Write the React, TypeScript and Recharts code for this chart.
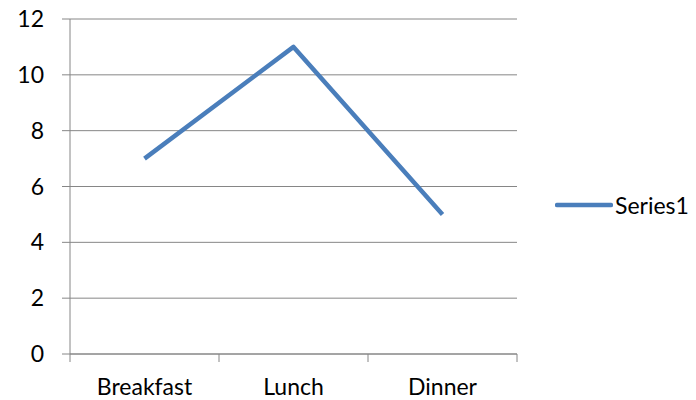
/** Line chart: one series across three meals, Excel-style. */

import { LineChart, Line, XAxis, YAxis, CartesianGrid, Legend } from 'recharts'

const CATEGORIES = ['Breakfast', 'Lunch', 'Dinner']
const SERIES_NAME = 'Series1'
const SERIES_VALUES = [7, 11, 5]
const Y_TICKS = [0, 2, 4, 6, 8, 10, 12]

const LINE_COLOR = '#4a7ebb'
const AXIS_COLOR = '#868686'
const FONT = 'Lato, "Liberation Sans", sans-serif'
const FONT_SIZE = 23

// categories sit in the middle of each band, tick marks on band edges
const rows = CATEGORIES.map((name, i) => ({ x: i + 0.5, name, value: SERIES_VALUES[i] }))
const xTicks: number[] = []
for (let i = 0; i <= CATEGORIES.length; i++) {
  xTicks.push(i)
  if (i < CATEGORIES.length) xTicks.push(i + 0.5)
}

function CategoryTick({ x, y, payload }: any) {
  const v = payload.value as number
  if (Number.isInteger(v)) {
    return <line x1={x} x2={x} y1={y} y2={y + 8} stroke={AXIS_COLOR} strokeWidth={1} />
  }
  return (
    <text x={x} y={y + 41} textAnchor="middle" fill="#000" fontFamily={FONT} fontSize={FONT_SIZE}>
      {CATEGORIES[Math.floor(v)]}
    </text>
  )
}

function LegendContent() {
  return (
    <div style={{ display: 'flex', alignItems: 'center', fontFamily: FONT, fontSize: FONT_SIZE, color: '#000' }}>
      <svg width={58} height={10}>
        <line x1={2} y1={5} x2={56} y2={5} stroke={LINE_COLOR} strokeWidth={4.5} strokeLinecap="round" />
      </svg>
      <span style={{ marginLeft: 2 }}>{SERIES_NAME}</span>
    </div>
  )
}

export default function App() {
  return (
    <div style={{ position: 'absolute', left: 0, top: 0, background: '#fff' }}>
      <LineChart width={696} height={400} data={rows} margin={{ top: 19, right: 179, bottom: 0, left: 0 }}>
        <CartesianGrid vertical={false} stroke={AXIS_COLOR} strokeWidth={1} />
        <XAxis
          dataKey="x"
          type="number"
          domain={[0, CATEGORIES.length]}
          ticks={xTicks}
          interval={0}
          height={46}
          tickSize={0}
          tickMargin={0}
          tickLine={false}
          axisLine={{ stroke: AXIS_COLOR, strokeWidth: 1 }}
          tick={<CategoryTick />}
        />
        <YAxis
          domain={[0, 12]}
          ticks={Y_TICKS}
          interval={0}
          width={70}
          tickSize={8}
          tickMargin={18}
          axisLine={{ stroke: AXIS_COLOR, strokeWidth: 1 }}
          tickLine={{ stroke: AXIS_COLOR, strokeWidth: 1 }}
          tick={{ fill: '#000', fontFamily: FONT, fontSize: FONT_SIZE }}
        />
        <Legend
          layout="vertical"
          align="center"
          verticalAlign="middle"
          content={<LegendContent />}
          wrapperStyle={{ left: 555, top: 191, width: 'auto' }}
        />
        <Line
          dataKey="value"
          name={SERIES_NAME}
          stroke={LINE_COLOR}
          strokeWidth={4.5}
          dot={false}
          activeDot={false}
          strokeLinejoin="round"
          isAnimationActive={false}
        />
      </LineChart>
    </div>
  )
}
